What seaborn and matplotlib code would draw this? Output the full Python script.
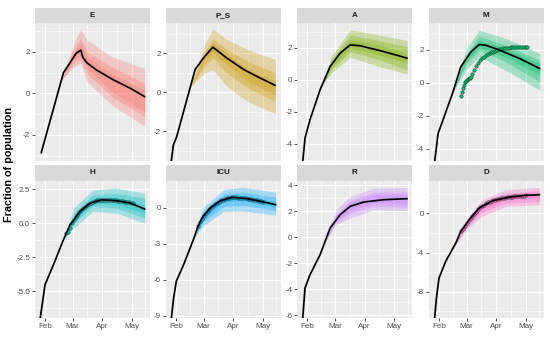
import numpy as np
import pandas as pd
import matplotlib
matplotlib.use('Agg')
import matplotlib.pyplot as plt
import matplotlib.dates as mdates
import seaborn as sns

# Days are counted from 2020-02-01. Values.

# ---- E ----
E_day = [-4, 19.3, 32.6, 37.5, 39.6, 43.9, 54, 72, 89.5, 104.5]
E_med = [-2.86, 0.99, 1.92, 2.08, 1.73, 1.47, 1.12, 0.64, 0.24, -0.16]
E_band_day = [17, 30, 37.5, 44, 70, 104.5]
E_out_hi = [0.6, 2.4, 3.08, 2.56, 1.76, 1.2]
E_out_lo = [0.6, 1.28, 1.44, 0.56, -0.56, -1.57]
E_mid_hi = [0.6, 2.16, 2.64, 2.0, 1.28, 0.48]
E_mid_lo = [0.6, 1.44, 1.63, 0.96, -0.16, -1.12]
E_in_hi = [0.6, 2.0, 2.4, 1.76, 0.96, 0.16]
E_in_lo = [0.6, 1.63, 1.84, 1.2, 0.08, -0.88]

# ---- P_S ----
P_day = [-5.5, -2.8, 0.7, 20, 28.8, 38.6, 53, 71, 88, 104]
P_med = [-3.75, -2.7, -2.27, 1.17, 1.77, 2.32, 1.77, 1.17, 0.74, 0.36]
P_band_day = [15, 30, 38.6, 53, 75, 104]
P_out_hi = [0.28, 2.46, 3.27, 2.72, 2.2, 1.69]
P_out_lo = [0.28, 1.0, 1.17, 0.31, -0.46, -1.1]
P_mid_hi = [0.28, 2.11, 2.75, 2.2, 1.6, 1.0]
P_mid_lo = [0.28, 1.34, 1.77, 1.0, 0.23, -0.46]
P_in_hi = [0.28, 1.94, 2.55, 1.99, 1.17, 0.57]
P_in_lo = [0.28, 1.6, 2.03, 1.43, 0.57, -0.12]

# ---- A ----
A_day = [-5, -2.4, 2.8, 13.4, 23.9, 34.4, 45, 55.5, 80, 104.6]
A_med = [-5.2, -3.63, -2.49, -0.62, 0.83, 1.66, 2.18, 2.12, 1.76, 1.35]
A_band_day = [15, 25, 45, 75, 104.6]
A_out_hi = [-0.4, 1.45, 3.12, 2.8, 2.45]
A_out_lo = [-0.4, 0.42, 1.41, 0.83, 0.37]
A_mid_hi = [-0.4, 1.25, 2.8, 2.45, 2.07]
A_mid_lo = [-0.4, 0.62, 1.76, 1.25, 0.62]
A_in_hi = [-0.4, 1.08, 2.53, 2.18, 1.66]
A_in_lo = [-0.4, 0.79, 1.97, 1.56, 1.04]

# ---- M ----
M_day = [-4.8, -1, 5.3, 14.1, 22.8, 33.4, 42.1, 49, 63.5, 84.5, 105.6]
M_med = [-4.9, -3.08, -2.07, -0.64, 0.97, 1.88, 2.33, 2.29, 1.99, 1.48, 0.87]
M_band_day = [14, 28, 42, 70, 105.6]
M_out_hi = [-0.64, 1.99, 3.2, 2.7, 1.79]
M_out_lo = [-0.64, 0.77, 1.58, 0.77, -0.44]
M_mid_hi = [-0.64, 1.68, 2.84, 2.29, 1.38]
M_mid_lo = [-0.64, 1.08, 1.99, 1.28, 0.06]
M_in_hi = [-0.64, 1.54, 2.6, 2.09, 1.18]
M_in_lo = [-0.64, 1.22, 2.19, 1.58, 0.47]
M_obs_day = [23, 24, 25, 26, 27, 28, 29, 30, 31, 32, 33, 35, 37, 39, 41, 43, 45, 47, 49,
             51, 53, 55, 57, 59, 61, 63, 65, 67, 69, 71, 73, 75, 77, 79, 81, 83, 85, 87, 89, 91, 92]
M_obs = [-0.81, -0.55, -0.3, -0.1, 0.03, 0.1, 0.17, 0.22, 0.27, 0.3, 0.33, 0.55, 0.8, 1.02, 1.22,
         1.38, 1.5, 1.6, 1.68, 1.74, 1.8, 1.86, 1.9, 1.95, 2.0, 2.04, 2.07, 2.1, 2.12, 2.14, 2.15,
         2.16, 2.17, 2.18, 2.18, 2.19, 2.19, 2.19, 2.19, 2.19, 2.19]

# ---- H ----
H_day = [-5.5, -2.5, 0, 8.8, 19.3, 26.3, 36.8, 47.4, 59.6, 75.4, 89.5, 104.5]
H_med = [-7.2, -5.75, -4.52, -3.06, -1.22, -0.12, 0.86, 1.47, 1.71, 1.64, 1.47, 1.03]
H_band_day = [19, 30, 50, 75, 104.5]
H_out_hi = [-1.25, 1.1, 2.44, 2.57, 2.2]
H_out_lo = [-1.25, -0.37, 0.86, 0.73, 0.0]
H_mid_hi = [-1.25, 0.73, 2.08, 2.2, 1.83]
H_mid_lo = [-1.25, 0.0, 1.22, 1.1, 0.37]
H_in_hi = [-1.25, 0.49, 1.83, 1.89, 1.34]
H_in_lo = [-1.25, 0.1, 1.47, 1.39, 0.73]
H_obs_day = [22, 24, 26, 28, 30, 32, 34, 36, 38, 40, 42, 44, 46, 48, 50, 52, 54, 56,
             58, 60, 62, 64, 66, 68, 70, 72, 74, 76, 78, 80, 82, 84, 86, 88, 90, 92]
H_obs = [-0.75, -0.62, -0.35, 0.0, 0.25, 0.45, 0.63, 0.8, 0.95, 1.08, 1.2, 1.32, 1.42, 1.5,
         1.57, 1.62, 1.66, 1.69, 1.71, 1.72, 1.72, 1.72, 1.71, 1.7, 1.69, 1.68, 1.66, 1.65,
         1.63, 1.61, 1.59, 1.57, 1.55, 1.53, 1.5, 1.48]

# ---- ICU ----
I_day = [-5.2, -2.5, 0.3, 8, 18.5, 23, 28, 36.1, 46.6, 58.9, 74.7, 92.2, 104.5]
I_med = [-9.4, -7.5, -6.11, -4.73, -2.6, -1.55, -0.75, -0.02, 0.58, 0.86, 0.75, 0.47, 0.25]
I_band_day = [19, 28, 50, 70, 104.5]
I_out_hi = [-2.5, 0.0, 1.5, 1.69, 1.3]
I_out_lo = [-2.5, -1.55, -0.3, -0.25, -0.63]
I_mid_hi = [-2.5, -0.3, 1.14, 1.3, 0.86]
I_mid_lo = [-2.5, -1.2, 0.12, 0.2, -0.25]
I_in_hi = [-2.5, -0.55, 0.95, 1.03, 0.53]
I_in_lo = [-2.5, -0.95, 0.47, 0.58, 0.03]
I_obs_day = [23, 25, 27, 29, 31, 33, 35, 37, 39, 41, 43, 45, 47, 49, 51, 53, 55, 57,
             59, 61, 63, 65, 67, 69, 71, 73, 75, 77, 79, 81, 83, 85, 87, 89, 91]
I_obs = [-1.5, -1.2, -0.92, -0.66, -0.45, -0.27, -0.1, 0.05, 0.18, 0.3, 0.4, 0.5, 0.6, 0.67,
         0.73, 0.78, 0.81, 0.84, 0.86, 0.86, 0.85, 0.84, 0.83, 0.81, 0.79, 0.77, 0.75, 0.72,
         0.69, 0.66, 0.63, 0.6, 0.56, 0.52, 0.48]

# ---- R ----
R_day = [-5, -2.4, 2.8, 13.4, 23.9, 34.4, 45, 59, 80, 104.6]
R_med = [-6.4, -3.92, -2.9, -1.36, 0.69, 1.72, 2.36, 2.69, 2.87, 2.95]
R_band_day = [18, 30, 45, 70, 104.6]
R_out_hi = [-0.46, 2.1, 3.13, 3.77, 3.82]
R_out_lo = [-0.46, 0.95, 1.46, 2.1, 2.03]
R_mid_hi = [-0.46, 1.77, 2.79, 3.46, 3.46]
R_mid_lo = [-0.46, 1.1, 1.85, 2.36, 2.28]
R_in_hi = [-0.46, 1.59, 2.62, 3.25, 3.26]
R_in_lo = [-0.46, 1.2, 2.1, 2.62, 2.54]

# ---- D ----
D_day = [-4.8, -2.7, 0, 7, 17.6, 22.8, 31.6, 42.1, 56.2, 73.7, 91.3, 105.3]
D_med = [-10.9, -8.64, -6.6, -4.9, -3.03, -1.84, -0.65, 0.54, 1.29, 1.66, 1.84, 1.9]
D_band_day = [15, 30, 45, 70, 105.3]
D_out_hi = [-3.5, -0.48, 1.39, 2.41, 2.65]
D_out_lo = [-3.5, -1.5, -0.3, 0.71, 0.88]
D_mid_hi = [-3.5, -0.71, 1.05, 2.07, 2.31]
D_mid_lo = [-3.5, -1.26, 0.1, 1.05, 1.22]
D_in_hi = [-3.5, -0.86, 0.82, 1.84, 2.07]
D_in_lo = [-3.5, -1.09, 0.37, 1.39, 1.56]
D_obs_day = [23, 25, 27, 29, 31, 33, 35, 37, 39, 41, 43, 45, 47, 49, 51, 53, 55, 57,
             59, 61, 63, 65, 67, 69, 71, 73, 75, 77, 79, 81, 83, 85, 87, 89, 91]
D_obs = [-1.85, -1.55, -1.25, -0.98, -0.72, -0.48, -0.25, -0.04, 0.15, 0.4, 0.6, 0.75, 0.9,
         1.02, 1.12, 1.2, 1.27, 1.33, 1.39, 1.44, 1.49, 1.53, 1.56, 1.59, 1.62, 1.65, 1.67,
         1.7, 1.72, 1.74, 1.76, 1.78, 1.8, 1.82, 1.84]

PANEL_NAMES = ['E', 'P_S', 'A', 'M', 'H', 'ICU', 'R', 'D']
PANEL_COLORS = ['#F8766D', '#CD9600', '#7CAE00', '#00BE67',
                '#00BFC4', '#00A9FF', '#C77CFF', '#FF61CC']

START = pd.Timestamp('2020-02-01')


def to_dates(days):
    return START + pd.to_timedelta(np.asarray(days, dtype=float), unit='D')


panels = [
    dict(med_day=E_day, med=E_med, band_day=E_band_day,
         bands=[(E_out_lo, E_out_hi), (E_mid_lo, E_mid_hi), (E_in_lo, E_in_hi)],
         obs_day=None, obs=None, yticks=[-2, 0, 2], ylim=(-3.25, 3.38)),
    dict(med_day=P_day, med=P_med, band_day=P_band_day,
         bands=[(P_out_lo, P_out_hi), (P_mid_lo, P_mid_hi), (P_in_lo, P_in_hi)],
         obs_day=None, obs=None, yticks=[-2, 0, 2], ylim=(-3.52, 3.56)),
    dict(med_day=A_day, med=A_med, band_day=A_band_day,
         bands=[(A_out_lo, A_out_hi), (A_mid_lo, A_mid_hi), (A_in_lo, A_in_hi)],
         obs_day=None, obs=None, yticks=[-4, -2, 0, 2], ylim=(-5.06, 3.54)),
    dict(med_day=M_day, med=M_med, band_day=M_band_day,
         bands=[(M_out_lo, M_out_hi), (M_mid_lo, M_mid_hi), (M_in_lo, M_in_hi)],
         obs_day=M_obs_day, obs=M_obs, yticks=[-4, -2, 0, 2], ylim=(-4.75, 3.64)),
    dict(med_day=H_day, med=H_med, band_day=H_band_day,
         bands=[(H_out_lo, H_out_hi), (H_mid_lo, H_mid_hi), (H_in_lo, H_in_hi)],
         obs_day=H_obs_day, obs=H_obs, yticks=[-5, -2.5, 0, 2.5], ylim=(-6.96, 3.09)),
    dict(med_day=I_day, med=I_med, band_day=I_band_day,
         bands=[(I_out_lo, I_out_hi), (I_mid_lo, I_mid_hi), (I_in_lo, I_in_hi)],
         obs_day=I_obs_day, obs=I_obs, yticks=[-9, -6, -3, 0], ylim=(-9.17, 2.22)),
    dict(med_day=R_day, med=R_med, band_day=R_band_day,
         bands=[(R_out_lo, R_out_hi), (R_mid_lo, R_mid_hi), (R_in_lo, R_in_hi)],
         obs_day=None, obs=None, yticks=[-6, -4, -2, 0, 2, 4], ylim=(-6.23, 4.31)),
    dict(med_day=D_day, med=D_med, band_day=D_band_day,
         bands=[(D_out_lo, D_out_hi), (D_mid_lo, D_mid_hi), (D_in_lo, D_in_hi)],
         obs_day=D_obs_day, obs=D_obs, yticks=[-8, -4, 0], ylim=(-10.68, 3.3)),
]

sns.set_theme(style='darkgrid', rc={
    'axes.facecolor': '#EBEBEB',
    'axes.unicode_minus': False,
    'xtick.color': '#333333',
    'ytick.color': '#333333',
    'xtick.labelcolor': '#4D4D4D',
    'ytick.labelcolor': '#4D4D4D',
})
plt.rcParams['font.family'] = ['Liberation Sans', 'DejaVu Sans']

W, H = 550, 337
fig = plt.figure(figsize=(5.5, 3.37), dpi=100)


def box(x0, y0, w, h):
    return [x0 / W, 1 - (y0 + h) / H, w / W, h / H]


col_x = [35, 166, 297.3, 429]
col_w = 114.5
rows = [dict(strip_y=8, strip_h=15, plot_y=23, plot_h=138),
        dict(strip_y=165, strip_h=16, plot_y=181, plot_h=137)]

x_major = to_dates([0, 29, 60, 91])
x_minor = to_dates([14.5, 44.5, 75.5, 105])

for i, (name, color, p) in enumerate(zip(PANEL_NAMES, PANEL_COLORS, panels)):
    r, c = divmod(i, 4)
    row = rows[r]
    ax = fig.add_axes(box(col_x[c], row['plot_y'], col_w, row['plot_h']))
    sax = fig.add_axes(box(col_x[c], row['strip_y'], col_w, row['strip_h']))

    bd = to_dates(p['band_day'])
    for lo, hi in p['bands']:
        ax.fill_between(bd, lo, hi, color=color, alpha=0.3, lw=0, zorder=2)
    if p['obs_day'] is not None:
        sns.scatterplot(x=to_dates(p['obs_day']), y=p['obs'], ax=ax, color=color,
                        edgecolor='#1f3a30', linewidth=0.35, s=6, zorder=3)
    sns.lineplot(x=to_dates(p['med_day']), y=p['med'], ax=ax, color='black',
                 lw=1.25, zorder=4)

    ax.set_xlim(to_dates([-10.5])[0], to_dates([109.5])[0])
    ax.set_ylim(*p['ylim'])
    ax.set_xticks(x_major)
    ax.set_xticks(x_minor, minor=True)
    ax.xaxis.set_major_formatter(mdates.DateFormatter('%b'))
    yt = p['yticks']
    step = yt[1] - yt[0]
    ax.set_yticks(yt)
    ax.set_yticklabels(['%.1f' % v if name == 'H' else '%d' % v for v in yt])
    ax.set_yticks(np.arange(yt[0] - step / 2, yt[-1] + step, step), minor=True)
    ax.set_ylim(*p['ylim'])
    ax.grid(which='major', color='white', lw=0.9)
    ax.grid(which='minor', color='white', lw=0.45)
    ax.tick_params(which='major', length=2, width=0.6, pad=1.5, labelsize=5.8,
                   bottom=(r == 1), left=True, labelbottom=(r == 1))
    ax.tick_params(which='minor', length=0)
    ax.set_xlabel('')
    ax.set_ylabel('')
    for s in ax.spines.values():
        s.set_visible(False)

    sax.set_facecolor('#D9D9D9')
    sax.set_xticks([])
    sax.set_yticks([])
    sax.grid(False)
    for s in sax.spines.values():
        s.set_visible(False)
    sax.text(0.5, 0.5, name, transform=sax.transAxes, ha='center', va='center',
             fontsize=5.8, fontweight='bold', color='#1A1A1A')

fig.text(9 / W, 1 - 165 / H, 'Fraction of population', rotation=90, ha='center',
         va='center', fontsize=7.8, fontweight='bold', color='black')

fig.savefig('out.png', dpi=100)
